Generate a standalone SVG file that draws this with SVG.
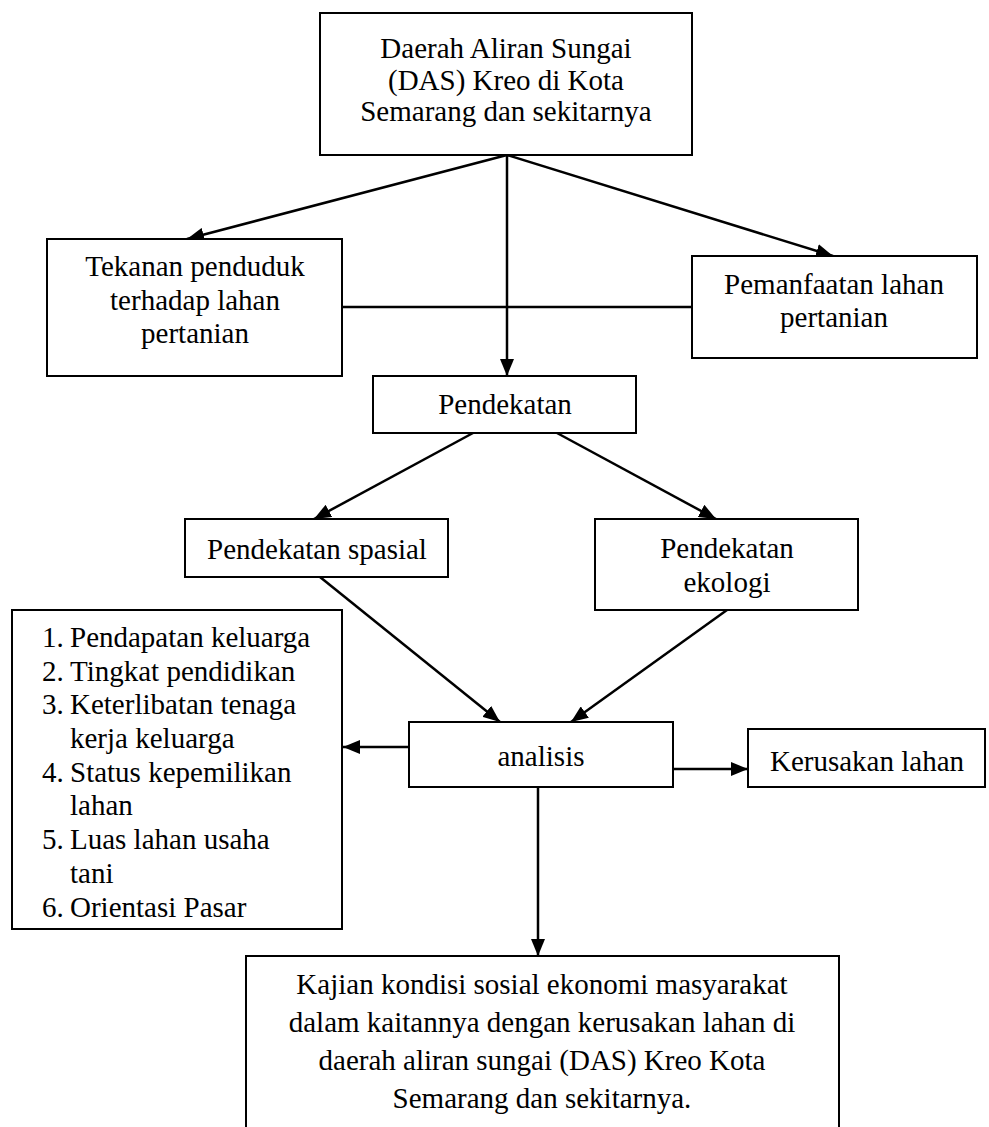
<svg xmlns="http://www.w3.org/2000/svg" width="989" height="1127" viewBox="0 0 989 1127">
<style>
.box{fill:#fff;stroke:#000;stroke-width:2}
.t{font-family:"Liberation Serif","Times New Roman",serif;font-size:29px;fill:#000}
.c{text-anchor:middle}
.ln{stroke:#000;stroke-width:2.5;fill:none}
</style>
<defs>
<marker id="ah" markerUnits="userSpaceOnUse" markerWidth="18" markerHeight="14" refX="17" refY="7" orient="auto">
<path d="M0,0 L17,7 L0,14 z" fill="#000"/>
</marker>
</defs>
<rect width="989" height="1127" fill="#fff"/>
<g id="connectors">
<line class="ln" x1="507" y1="155" x2="187" y2="239" marker-end="url(#ah)"/>
<line class="ln" x1="507" y1="155" x2="833" y2="256" marker-end="url(#ah)"/>
<line class="ln" x1="507" y1="155" x2="507" y2="376" marker-end="url(#ah)"/>
<line class="ln" x1="342" y1="307" x2="692" y2="307"/>
<line class="ln" x1="473" y1="433" x2="314" y2="519" marker-end="url(#ah)"/>
<line class="ln" x1="557" y1="433" x2="716" y2="519" marker-end="url(#ah)"/>
<line class="ln" x1="320" y1="577" x2="500" y2="722" marker-end="url(#ah)"/>
<line class="ln" x1="727" y1="610" x2="571" y2="722" marker-end="url(#ah)"/>
<line class="ln" x1="409" y1="747" x2="343" y2="747" marker-end="url(#ah)"/>
<line class="ln" x1="673" y1="769" x2="748" y2="769" marker-end="url(#ah)"/>
<line class="ln" x1="538" y1="787" x2="538" y2="956" marker-end="url(#ah)"/>
</g>
<g id="das">
<rect class="box" x="320" y="13" width="372" height="142"/>
<text class="t c" x="506" y="58">Daerah Aliran Sungai</text>
<text class="t c" x="506" y="90">(DAS) Kreo di Kota</text>
<text class="t c" x="506" y="121">Semarang dan sekitarnya</text>
</g>
<g id="tekanan">
<rect class="box" x="47" y="239" width="295" height="137"/>
<text class="t c" x="195" y="276">Tekanan penduduk</text>
<text class="t c" x="195" y="310">terhadap lahan</text>
<text class="t c" x="195" y="343">pertanian</text>
</g>
<g id="pemanfaatan">
<rect class="box" x="692" y="256" width="285" height="102"/>
<text class="t c" x="834" y="294">Pemanfaatan lahan</text>
<text class="t c" x="834" y="327">pertanian</text>
</g>
<g id="pendekatan">
<rect class="box" x="373" y="376" width="263" height="57"/>
<text class="t c" x="505" y="414">Pendekatan</text>
</g>
<g id="spasial">
<rect class="box" x="185" y="519" width="263" height="58"/>
<text class="t c" x="317" y="559">Pendekatan spasial</text>
</g>
<g id="ekologi">
<rect class="box" x="595" y="519" width="263" height="91"/>
<text class="t c" x="727" y="558">Pendekatan</text>
<text class="t c" x="727" y="592">ekologi</text>
</g>
<g id="faktor">
<rect class="box" x="12" y="610" width="330" height="319"/>
<g class="t">
<text x="42" y="647">1.</text><text x="70" y="647">Pendapatan keluarga</text>
<text x="42" y="681">2.</text><text x="70" y="681">Tingkat pendidikan</text>
<text x="42" y="714">3.</text><text x="70" y="714">Keterlibatan tenaga</text>
<text x="70" y="748">kerja keluarga</text>
<text x="42" y="782">4.</text><text x="70" y="782">Status kepemilikan</text>
<text x="70" y="815">lahan</text>
<text x="42" y="849">5.</text><text x="70" y="849">Luas lahan usaha</text>
<text x="70" y="883">tani</text>
<text x="42" y="917">6.</text><text x="70" y="917">Orientasi Pasar</text>
</g>
</g>
<g id="analisis">
<rect class="box" x="409" y="722" width="264" height="65"/>
<text class="t c" x="541" y="766">analisis</text>
</g>
<g id="kerusakan">
<rect class="box" x="748" y="729" width="237" height="58"/>
<text class="t c" x="867" y="771">Kerusakan lahan</text>
</g>
<g id="kajian">
<rect class="box" x="246" y="956" width="593" height="180"/>
<text class="t c" x="542" y="994">Kajian kondisi sosial ekonomi masyarakat</text>
<text class="t c" x="542" y="1032">dalam kaitannya dengan kerusakan lahan di</text>
<text class="t c" x="542" y="1070">daerah aliran sungai (DAS) Kreo Kota</text>
<text class="t c" x="542" y="1108">Semarang dan sekitarnya.</text>
</g>
</svg>
